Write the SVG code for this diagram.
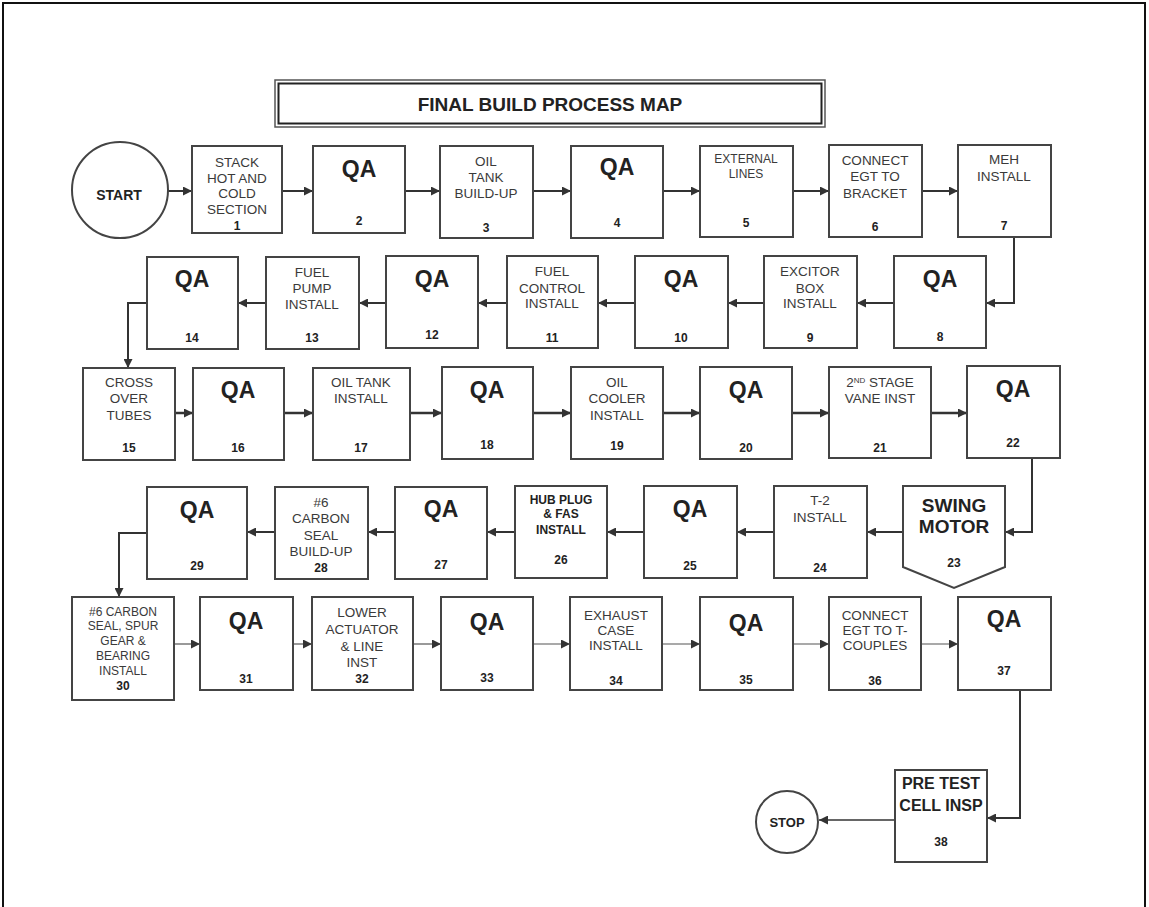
<svg xmlns="http://www.w3.org/2000/svg" width="1149" height="907" viewBox="0 0 1149 907">
<defs>
<marker id="ah" viewBox="0 0 10 10" refX="10" refY="5" markerWidth="10" markerHeight="9" markerUnits="userSpaceOnUse" orient="auto">
<path d="M0,0 L10,5 L0,10 Z" fill="#333"/>
</marker>
</defs>
<style>
.bx{fill:#fff;stroke:#444;stroke-width:2}
.t{font-family:"Liberation Sans",Arial,sans-serif;font-size:13.5px;fill:#3a3a3a;text-anchor:middle}
.s{font-size:12px}
.qa{font-family:"Liberation Sans",Arial,sans-serif;font-size:23px;font-weight:bold;fill:#222;text-anchor:middle}
.n{font-family:"Liberation Sans",Arial,sans-serif;font-size:12px;font-weight:bold;fill:#222;text-anchor:middle}
.b{font-weight:bold;fill:#222}
.c{fill:none;stroke:#333;stroke-width:2;marker-end:url(#ah)}
.c3{stroke-width:2.5}
.c5{stroke:#555;stroke-width:1.2}
</style>
<rect x="0" y="0" width="1149" height="907" fill="#fff"/>
<rect x="3" y="3" width="1142" height="920" fill="none" stroke="#111" stroke-width="2"/>
<g id="title">
<rect x="275" y="80" width="550" height="47" fill="#fff" stroke="#555" stroke-width="1.5"/>
<rect x="278.5" y="83.5" width="543" height="40" fill="none" stroke="#222" stroke-width="2"/>
<text x="550" y="111" class="t b" style="font-size:19px">FINAL BUILD PROCESS MAP</text>
</g>
<g id="connectors">
<path class="c" d="M168 191 H192"/>
<path class="c" d="M282 191 H313"/>
<path class="c" d="M405 191 H440"/>
<path class="c" d="M533 191 H571"/>
<path class="c" d="M663 191 H700"/>
<path class="c" d="M793 191 H829"/>
<path class="c" d="M922 191 H958"/>
<path class="c" d="M1014 237 V303 H986"/>
<path class="c" d="M894 303 H857"/>
<path class="c" d="M764 303 H728"/>
<path class="c" d="M635 303 H598"/>
<path class="c" d="M507 303 H478"/>
<path class="c" d="M386 303 H359"/>
<path class="c" d="M266 303 H238"/>
<path class="c" d="M147 303 H128 V368"/>
<path class="c c3" d="M175 413 H193"/>
<path class="c c3" d="M284 413 H313"/>
<path class="c c3" d="M410 413 H442"/>
<path class="c c3" d="M533 413 H571"/>
<path class="c c3" d="M663 413 H700"/>
<path class="c c3" d="M792 413 H829"/>
<path class="c c3" d="M931 413 H967"/>
<path class="c" d="M1032 458 V532 H1005"/>
<path class="c" d="M903 532 H867"/>
<path class="c" d="M774 532 H737"/>
<path class="c" d="M644 532 H607"/>
<path class="c" d="M515 532 H487"/>
<path class="c" d="M395 532 H368"/>
<path class="c" d="M275 532 H247"/>
<path class="c" d="M147 533 H119 V597"/>
<path class="c c5" d="M174 644 H200"/>
<path class="c c5" d="M293 644 H312"/>
<path class="c c5" d="M413 644 H441"/>
<path class="c c5" d="M533 644 H570"/>
<path class="c c5" d="M662 644 H700"/>
<path class="c c5" d="M793 644 H829"/>
<path class="c c5" d="M921 644 H958"/>
<path class="c" d="M1020 690 V818 H987"/>
<path class="c" style="stroke-width:1.5" d="M895 820 H819"/>
</g>
<g id="start"><circle cx="120" cy="190" r="48" class="bx"/><text x="119" y="200" class="t b" style="font-size:14px">START</text></g>
<g id="n1"><rect x="192" y="146" width="90" height="87" class="bx"/><text class="t" x="237" y="167">STACK</text><text class="t" x="237" y="183">HOT AND</text><text class="t" x="237" y="198">COLD</text><text class="t" x="237" y="214">SECTION</text><text class="n" x="237" y="230">1</text></g>
<g id="n2"><rect x="313" y="146" width="92" height="87" class="bx"/><text class="qa" x="359" y="177">QA</text><text class="n" x="359" y="225">2</text></g>
<g id="n3"><rect x="440" y="146" width="93" height="92" class="bx"/><text class="t" x="486" y="166">OIL</text><text class="t" x="486" y="182">TANK</text><text class="t" x="486" y="198">BUILD-UP</text><text class="n" x="486" y="232">3</text></g>
<g id="n4"><rect x="571" y="146" width="92" height="92" class="bx"/><text class="qa" x="617" y="175">QA</text><text class="n" x="617" y="227">4</text></g>
<g id="n5"><rect x="700" y="146" width="93" height="91" class="bx"/><text class="t s" x="746" y="163">EXTERNAL</text><text class="t s" x="746" y="178">LINES</text><text class="n" x="746" y="227">5</text></g>
<g id="n6"><rect x="829" y="145" width="93" height="92" class="bx"/><text class="t" x="875" y="165">CONNECT</text><text class="t" x="875" y="181">EGT TO</text><text class="t" x="875" y="198">BRACKET</text><text class="n" x="875" y="231">6</text></g>
<g id="n7"><rect x="958" y="145" width="93" height="92" class="bx"/><text class="t" x="1004" y="164">MEH</text><text class="t" x="1004" y="181">INSTALL</text><text class="n" x="1004" y="230">7</text></g>
<g id="n8"><rect x="894" y="256" width="92" height="92" class="bx"/><text class="qa" x="940" y="287">QA</text><text class="n" x="940" y="341">8</text></g>
<g id="n9"><rect x="764" y="256" width="93" height="92" class="bx"/><text class="t" x="810" y="276">EXCITOR</text><text class="t" x="810" y="293">BOX</text><text class="t" x="810" y="308">INSTALL</text><text class="n" x="810" y="342">9</text></g>
<g id="n10"><rect x="635" y="256" width="93" height="92" class="bx"/><text class="qa" x="681" y="287">QA</text><text class="n" x="681" y="342">10</text></g>
<g id="n11"><rect x="507" y="256" width="91" height="92" class="bx"/><text class="t" x="552" y="276">FUEL</text><text class="t" x="552" y="293">CONTROL</text><text class="t" x="552" y="308">INSTALL</text><text class="n" x="552" y="342">11</text></g>
<g id="n12"><rect x="386" y="256" width="92" height="92" class="bx"/><text class="qa" x="432" y="287">QA</text><text class="n" x="432" y="339">12</text></g>
<g id="n13"><rect x="266" y="257" width="93" height="92" class="bx"/><text class="t" x="312" y="277">FUEL</text><text class="t" x="312" y="293">PUMP</text><text class="t" x="312" y="309">INSTALL</text><text class="n" x="312" y="342">13</text></g>
<g id="n14"><rect x="147" y="257" width="91" height="92" class="bx"/><text class="qa" x="192" y="287">QA</text><text class="n" x="192" y="342">14</text></g>
<g id="n15"><rect x="83" y="368" width="92" height="92" class="bx"/><text class="t" x="129" y="387">CROSS</text><text class="t" x="129" y="403">OVER</text><text class="t" x="129" y="420">TUBES</text><text class="n" x="129" y="452">15</text></g>
<g id="n16"><rect x="193" y="368" width="91" height="92" class="bx"/><text class="qa" x="238" y="398">QA</text><text class="n" x="238" y="452">16</text></g>
<g id="n17"><rect x="313" y="368" width="97" height="92" class="bx"/><text class="t" x="361" y="387">OIL TANK</text><text class="t" x="361" y="403">INSTALL</text><text class="n" x="361" y="452">17</text></g>
<g id="n18"><rect x="442" y="367" width="91" height="92" class="bx"/><text class="qa" x="487" y="398">QA</text><text class="n" x="487" y="449">18</text></g>
<g id="n19"><rect x="571" y="367" width="92" height="92" class="bx"/><text class="t" x="617" y="387">OIL</text><text class="t" x="617" y="403">COOLER</text><text class="t" x="617" y="420">INSTALL</text><text class="n" x="617" y="450">19</text></g>
<g id="n20"><rect x="700" y="367" width="92" height="92" class="bx"/><text class="qa" x="746" y="398">QA</text><text class="n" x="746" y="452">20</text></g>
<g id="n21"><rect x="829" y="367" width="102" height="91" class="bx"/><text class="t" x="880" y="387">2<tspan style="font-size:8px" baseline-shift="super">ND</tspan> STAGE</text><text class="t" x="880" y="403">VANE INST</text><text class="n" x="880" y="452">21</text></g>
<g id="n22"><rect x="967" y="366" width="93" height="92" class="bx"/><text class="qa" x="1013" y="397">QA</text><text class="n" x="1013" y="447">22</text></g>
<g id="n23"><polygon points="903,486 1005,486 1005,567 954,588 903,567" class="bx"/><text class="t b" style="font-size:19px" x="954" y="512">SWING</text><text class="t b" style="font-size:19px" x="954" y="533">MOTOR</text><text class="n" x="954" y="567">23</text></g>
<g id="n24"><rect x="774" y="486" width="93" height="92" class="bx"/><text class="t" x="820" y="505">T-2</text><text class="t" x="820" y="522">INSTALL</text><text class="n" x="820" y="572">24</text></g>
<g id="n25"><rect x="644" y="486" width="93" height="92" class="bx"/><text class="qa" x="690" y="517">QA</text><text class="n" x="690" y="570">25</text></g>
<g id="n26"><rect x="515" y="486" width="92" height="92" class="bx"/><text class="t b s" x="561" y="504">HUB PLUG</text><text class="t b s" x="561" y="518">&amp; FAS</text><text class="t b s" x="561" y="534">INSTALL</text><text class="n" x="561" y="564">26</text></g>
<g id="n27"><rect x="395" y="487" width="92" height="92" class="bx"/><text class="qa" x="441" y="517">QA</text><text class="n" x="441" y="569">27</text></g>
<g id="n28"><rect x="275" y="487" width="93" height="92" class="bx"/><text class="t" x="321" y="507">#6</text><text class="t" x="321" y="523">CARBON</text><text class="t" x="321" y="540">SEAL</text><text class="t" x="321" y="556">BUILD-UP</text><text class="n" x="321" y="572">28</text></g>
<g id="n29"><rect x="147" y="487" width="100" height="92" class="bx"/><text class="qa" x="197" y="518">QA</text><text class="n" x="197" y="570">29</text></g>
<g id="n30"><rect x="72" y="597" width="102" height="103" class="bx"/><text class="t s" x="123" y="616">#6 CARBON</text><text class="t s" x="123" y="630">SEAL, SPUR</text><text class="t s" x="123" y="645">GEAR &amp;</text><text class="t s" x="123" y="660">BEARING</text><text class="t s" x="123" y="675">INSTALL</text><text class="n" x="123" y="690">30</text></g>
<g id="n31"><rect x="200" y="597" width="93" height="93" class="bx"/><text class="qa" x="246" y="629">QA</text><text class="n" x="246" y="683">31</text></g>
<g id="n32"><rect x="312" y="597" width="101" height="93" class="bx"/><text class="t" x="362" y="617">LOWER</text><text class="t" x="362" y="634">ACTUATOR</text><text class="t" x="362" y="651">&amp; LINE</text><text class="t" x="362" y="667">INST</text><text class="n" x="362" y="683">32</text></g>
<g id="n33"><rect x="441" y="597" width="92" height="93" class="bx"/><text class="qa" x="487" y="630">QA</text><text class="n" x="487" y="682">33</text></g>
<g id="n34"><rect x="570" y="597" width="92" height="93" class="bx"/><text class="t" x="616" y="620">EXHAUST</text><text class="t" x="616" y="635">CASE</text><text class="t" x="616" y="650">INSTALL</text><text class="n" x="616" y="685">34</text></g>
<g id="n35"><rect x="700" y="597" width="93" height="93" class="bx"/><text class="qa" x="746" y="631">QA</text><text class="n" x="746" y="684">35</text></g>
<g id="n36"><rect x="829" y="597" width="92" height="93" class="bx"/><text class="t" x="875" y="620">CONNECT</text><text class="t" x="875" y="635">EGT TO T-</text><text class="t" x="875" y="650">COUPLES</text><text class="n" x="875" y="685">36</text></g>
<g id="n37"><rect x="958" y="597" width="93" height="93" class="bx"/><text class="qa" x="1004" y="627">QA</text><text class="n" x="1004" y="675">37</text></g>
<g id="n38"><rect x="895" y="770" width="92" height="92" class="bx"/><text class="t b" style="font-size:16px" x="941" y="789">PRE TEST</text><text class="t b" style="font-size:16px" x="941" y="811">CELL INSP</text><text class="n" x="941" y="846">38</text></g>
<g id="stop"><circle cx="787" cy="822" r="31" class="bx"/><text x="787" y="827" class="t b" style="font-size:13px">STOP</text></g>
</svg>
